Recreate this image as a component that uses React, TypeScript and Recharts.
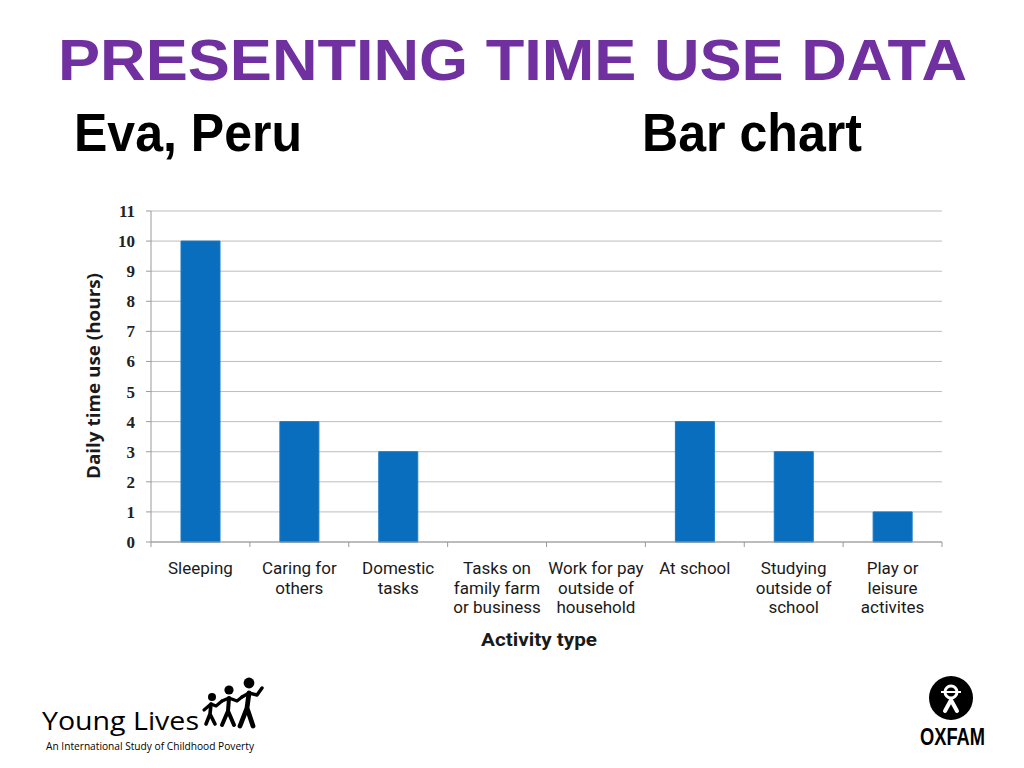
import React from 'react';
import { BarChart, Bar, XAxis, YAxis, CartesianGrid } from 'recharts';

const categories = [
  'Sleeping',
  'Caring for others',
  'Domestic tasks',
  'Tasks on family farm or business',
  'Work for pay outside of household',
  'At school',
  'Studying outside of school',
  'Play or leisure activites',
];
const categoryLines = [
  ['Sleeping'],
  ['Caring for', 'others'],
  ['Domestic', 'tasks'],
  ['Tasks on', 'family farm', 'or business'],
  ['Work for pay', 'outside of', 'household'],
  ['At school'],
  ['Studying', 'outside of', 'school'],
  ['Play or', 'leisure', 'activites'],
];
const hours = [10, 4, 3, 0, 0, 4, 3, 1];
const yTicks = [0, 1, 2, 3, 4, 5, 6, 7, 8, 9, 10, 11];

const data = categories.map((c, i) => ({ name: c, hours: hours[i], idx: i }));

const W = 1024;
const H = 768;
const PLOT_LEFT = 151;
const PLOT_RIGHT = 942;
const PLOT_TOP = 211;
const PLOT_BOTTOM = 542;
const Y_AXIS_W = 60;
const X_AXIS_H = 100;
const BAND = (PLOT_RIGHT - PLOT_LEFT) / categories.length;

const XTick = (props: any) => {
  const { x, y, payload, index } = props;
  const i = typeof index === 'number' ? index : categories.indexOf(payload.value);
  const lines = categoryLines[i] || [payload.value];
  return (
    <g>
      <line x1={x - BAND / 2} x2={x - BAND / 2} y1={y} y2={y + 5} stroke="#9a9a9a" strokeWidth={1} />
      {i === categories.length - 1 && (
        <line x1={x + BAND / 2} x2={x + BAND / 2} y1={y} y2={y + 5} stroke="#9a9a9a" strokeWidth={1} />
      )}
      <text
        x={x}
        y={y}
        textAnchor="middle"
        fontFamily="'Liberation Sans Narrow', 'Arial Narrow', 'Roboto', sans-serif"
        fontSize={17}
        fill="#1a1a1a"
      >
        {lines.map((l, k) => (
          <tspan key={k} x={x} y={y + 32 + k * 19.7}>
            {l}
          </tspan>
        ))}
      </text>
    </g>
  );
};

const YoungLivesFigures = () => (
  <g fill="#000" stroke="#000" strokeLinecap="round" strokeLinejoin="round">
    <circle cx={212} cy={697} r={4} stroke="none" />
    <path d="M204 710 L211 704 L216 706 L222 701" strokeWidth={3.2} fill="none" />
    <path d="M211 704 L210 714 M210 714 L206 724 M210 714 L215 724" strokeWidth={3.6} fill="none" />
    <circle cx={229} cy={690} r={4.6} stroke="none" />
    <path d="M222 701 L229 698 L237 701 L242 697" strokeWidth={3.2} fill="none" />
    <path d="M229 698 L228 711 M228 711 L222 725 M228 711 L234 725" strokeWidth={4} fill="none" />
    <circle cx={249} cy={683} r={5.4} stroke="none" />
    <path d="M242 697 L249 693 L257 695 L262 688" strokeWidth={3.4} fill="none" />
    <path d="M249 693 L247 708 M247 708 L240 726 M247 708 L253 726" strokeWidth={4.8} fill="none" />
  </g>
);

const OxfamLogo = () => (
  <g>
    <circle cx={951} cy={698} r={22} fill="#000" />
    <circle cx={951} cy={692} r={6} fill="none" stroke="#fff" strokeWidth={3} />
    <line x1={941} x2={961} y1={692} y2={692} stroke="#fff" strokeWidth={2} />
    <path d="M945 711 L951 700 L957 711" fill="none" stroke="#fff" strokeWidth={4} strokeLinecap="round" strokeLinejoin="round" />
    <text
      x={920}
      y={745}
      fontFamily="'Liberation Sans', Arial, sans-serif"
      fontWeight="bold"
      fontSize={24}
      textLength={65}
      lengthAdjust="spacingAndGlyphs"
      fill="#000"
    >
      OXFAM
    </text>
  </g>
);

export default function App() {
  return (
    <div style={{ position: 'absolute', left: 0, top: 0, width: W, height: H, background: '#fff', overflow: 'hidden' }}>
      <div style={{ position: 'absolute', left: 0, top: 0 }}>
        <BarChart
          width={W}
          height={H}
          data={data}
          margin={{
            top: PLOT_TOP,
            right: W - PLOT_RIGHT,
            bottom: H - PLOT_BOTTOM - X_AXIS_H,
            left: PLOT_LEFT - Y_AXIS_W,
          }}
          barCategoryGap={0}
        >
          <CartesianGrid vertical={false} stroke="#bdbdbd" strokeWidth={1} />
          <XAxis
            dataKey="name"
            height={X_AXIS_H}
            interval={0}
            tickSize={0}
            tickMargin={0}
            tickLine={false}
            axisLine={{ stroke: '#9a9a9a', strokeWidth: 1 }}
            tick={<XTick />}
          />
          <YAxis
            width={Y_AXIS_W}
            domain={[0, 11]}
            ticks={yTicks}
            interval={0}
            tickSize={5}
            tickMargin={11}
            axisLine={{ stroke: '#9a9a9a', strokeWidth: 1 }}
            tickLine={{ stroke: '#9a9a9a', strokeWidth: 1 }}
            tick={{ fontFamily: "'Liberation Serif', 'DejaVu Serif', serif", fontSize: 17, fill: '#222', fontWeight: 'bold' }}
          />
          <Bar dataKey="hours" fill="#0a6ebf" stroke="#1a78c4" strokeWidth={1} barSize={39} isAnimationActive={false} />
        </BarChart>
      </div>
      <svg width={W} height={H} style={{ position: 'absolute', left: 0, top: 0, pointerEvents: 'none' }}>
        <text
          x={58}
          y={80}
          fontFamily="'Liberation Sans', Arial, sans-serif"
          fontWeight="bold"
          fontSize={58}
          textLength={909}
          lengthAdjust="spacingAndGlyphs"
          fill="#7030a0"
        >
          PRESENTING TIME USE DATA
        </text>
        <text
          x={74}
          y={151}
          fontFamily="'Liberation Sans', Arial, sans-serif"
          fontWeight="bold"
          fontSize={53}
          textLength={228}
          lengthAdjust="spacingAndGlyphs"
          fill="#000"
        >
          Eva, Peru
        </text>
        <text
          x={642}
          y={151}
          fontFamily="'Liberation Sans', Arial, sans-serif"
          fontWeight="bold"
          fontSize={53}
          textLength={220}
          lengthAdjust="spacingAndGlyphs"
          fill="#000"
        >
          Bar chart
        </text>
        <text
          x={93}
          y={376}
          transform="rotate(-90 93 376)"
          textAnchor="middle"
          dominantBaseline="central"
          fontFamily="'Open Sans', 'Lato', sans-serif"
          fontWeight="bold"
          fontSize={17}
          textLength={206}
          lengthAdjust="spacingAndGlyphs"
          fill="#1a1a1a"
        >
          Daily time use (hours)
        </text>
        <text
          x={539}
          y={646}
          textAnchor="middle"
          fontFamily="'Liberation Sans Narrow', 'Arial Narrow', 'Roboto', sans-serif"
          fontWeight="bold"
          fontSize={19}
          textLength={116}
          lengthAdjust="spacingAndGlyphs"
          fill="#1a1a1a"
        >
          Activity type
        </text>
        <text
          x={42}
          y={730}
          fontFamily="'Open Sans', 'Lato', sans-serif"
          fontSize={26}
          textLength={157}
          lengthAdjust="spacingAndGlyphs"
          fill="#000"
        >
          Young Lives
        </text>
        <text
          x={46}
          y={750}
          fontFamily="'Open Sans', 'Lato', sans-serif"
          fontSize={10}
          textLength={208}
          lengthAdjust="spacingAndGlyphs"
          fill="#000"
        >
          An International Study of Childhood Poverty
        </text>
        <YoungLivesFigures />
        <OxfamLogo />
      </svg>
    </div>
  );
}
